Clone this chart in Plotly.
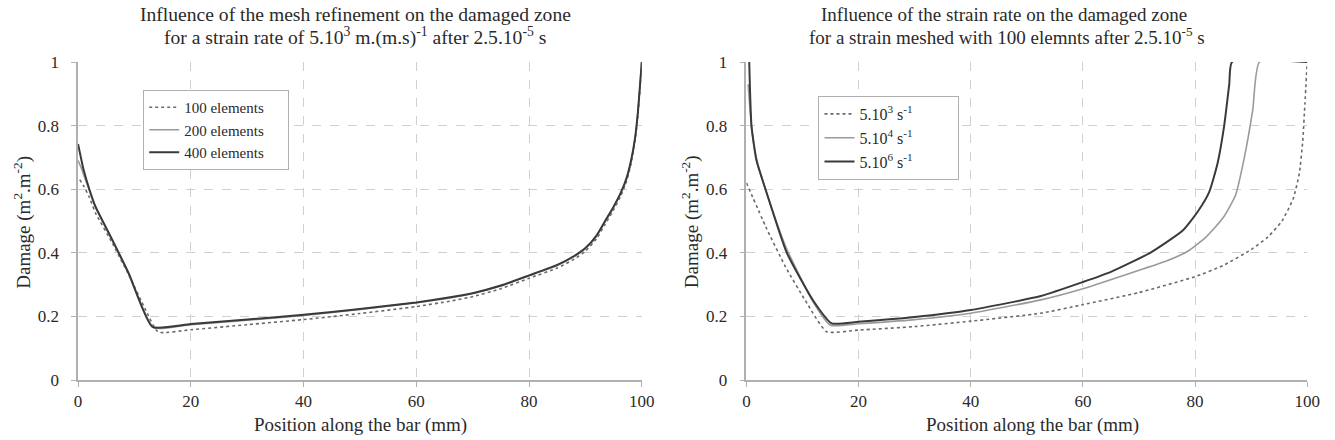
import plotly.graph_objects as go

# ---------------- Data: left chart (mesh refinement) ----------------
x_100el = [0.3, 1, 2, 3.1, 6.1, 9, 12, 14.2, 20, 30, 40, 50, 60, 66, 70, 75, 80, 85, 88, 90, 92, 93.5, 95, 96.3, 97.3, 98.1, 98.8, 99.3, 99.7, 100]
y_100el = [0.63, 0.61, 0.575, 0.525, 0.43, 0.33, 0.22, 0.151, 0.158, 0.174, 0.19, 0.209, 0.231, 0.248, 0.262, 0.287, 0.32, 0.352, 0.38, 0.405, 0.445, 0.49, 0.535, 0.58, 0.625, 0.68, 0.75, 0.83, 0.92, 1.0]

x_200el = [0, 0.5, 1, 2, 3.1, 6.1, 9, 13.4, 20, 30, 40, 50, 60, 66, 70, 75, 80, 85, 88, 90, 92, 93.5, 95, 96.3, 97.3, 98.1, 98.8, 99.3, 99.7, 100]
y_200el = [0.69, 0.67, 0.645, 0.597, 0.543, 0.438, 0.333, 0.164, 0.174, 0.188, 0.203, 0.222, 0.243, 0.258, 0.272, 0.296, 0.328, 0.36, 0.388, 0.413, 0.453, 0.498, 0.543, 0.588, 0.633, 0.688, 0.758, 0.838, 0.928, 1.0]

x_400el = [0, 0.5, 1, 2, 3.1, 6.1, 9, 13.2, 20, 30, 40, 50, 60, 66, 70, 75, 80, 85, 88, 90, 92, 93.5, 95, 96.3, 97.3, 98.1, 98.8, 99.3, 99.7, 100]
y_400el = [0.742, 0.70, 0.66, 0.60, 0.545, 0.44, 0.335, 0.167, 0.176, 0.19, 0.205, 0.223, 0.244, 0.26, 0.273, 0.297, 0.329, 0.362, 0.39, 0.415, 0.455, 0.50, 0.545, 0.59, 0.635, 0.69, 0.76, 0.84, 0.93, 1.0]

# ---------------- Data: right chart (strain rate) ----------------
x_5e3 = [0, 3.5, 7, 10.5, 14.3, 20, 30, 40, 52.5, 60, 70, 80, 85, 90, 93, 95.5, 97.5, 98.6, 99.2, 99.6, 100]
y_5e3 = [0.62, 0.48, 0.355, 0.25, 0.152, 0.157, 0.168, 0.185, 0.21, 0.237, 0.275, 0.325, 0.36, 0.41, 0.45, 0.50, 0.57, 0.65, 0.75, 0.87, 1.0]

x_5e4 = [0.3, 1, 2, 3.4, 7, 11.9, 15, 20, 30, 40, 52.5, 60, 70, 75, 78.7, 82, 85, 87.2, 88.8, 90.3, 91.5, 100]
y_5e4 = [0.93, 0.78, 0.68, 0.60, 0.42, 0.245, 0.172, 0.177, 0.19, 0.21, 0.252, 0.287, 0.345, 0.375, 0.405, 0.45, 0.51, 0.58, 0.70, 0.85, 1.0, 1.0]

x_5e6 = [0.5, 0.9, 1.8, 3.4, 7.2, 11.9, 15.2, 20, 30, 40, 52.5, 60, 65, 72, 77.8, 80.5, 82.5, 84.0, 85.2, 86.1, 86.6, 100]
y_5e6 = [1.0, 0.8, 0.69, 0.60, 0.40, 0.25, 0.178, 0.183, 0.198, 0.22, 0.264, 0.308, 0.34, 0.40, 0.47, 0.53, 0.59, 0.68, 0.80, 0.93, 1.0, 1.0]

x_ticks = [0, 20, 40, 60, 80, 100]
y_ticks = [0, 0.2, 0.4, 0.6, 0.8, 1]
y_tick_labels = ["0", "0.2", "0.4", "0.6", "0.8", "1"]

FONT = "Liberation Serif, Times New Roman, serif"
TXT = "#2a2a2a"
GRID = "#d0d0d0"
AXIS = "#b0b0b0"
NB = "\u00a0"

fig = go.Figure()

def add(x, y, name, color, width, dash, xa, ya, lg):
    fig.add_trace(go.Scatter(x=x, y=y, mode="lines", name=name,
                             line=dict(color=color, width=width, dash=dash,
                                       shape="spline", smoothing=0.5),
                             xaxis=xa, yaxis=ya, legend=lg))

add(x_100el, y_100el, "100 elements" + NB * 5, "#6a6a6a", 1.6, "dot", "x", "y", "legend")
add(x_200el, y_200el, "200 elements" + NB * 5, "#9a9a9a", 1.6, "solid", "x", "y", "legend")
add(x_400el, y_400el, "400 elements" + NB * 5, "#3a3a3a", 2, "solid", "x", "y", "legend")
add(x_5e3, y_5e3, "5.10<sup>3</sup> s<sup>-1</sup>" + NB * 10, "#6a6a6a", 1.6, "dot", "x2", "y2", "legend2")
add(x_5e4, y_5e4, "5.10<sup>4</sup> s<sup>-1</sup>" + NB * 10, "#9a9a9a", 1.6, "solid", "x2", "y2", "legend2")
add(x_5e6, y_5e6, "5.10<sup>6</sup> s<sup>-1</sup>" + NB * 10, "#3a3a3a", 2, "solid", "x2", "y2", "legend2")

W, H = 1335, 440
T, B = 62, 60
PH = H - T - B

def px_x(p):
    return p / W

def px_y(p):
    return (H - B - p) / PH

axis_common = dict(
    showline=True, linecolor=AXIS, linewidth=1.5,
    showgrid=True, gridcolor=GRID, griddash="dash", gridwidth=1,
    ticks="outside", ticklen=5, tickcolor=AXIS,
    tickfont=dict(family=FONT, size=17, color=TXT),
    zeroline=False, fixedrange=True,
)

legend_common = dict(xanchor="left", yanchor="top",
                     bgcolor="white", bordercolor="#b0b0b0", borderwidth=1,
                     itemwidth=30, tracegroupgap=0)

fig.update_layout(
    width=W, height=H,
    margin=dict(l=0, r=0, t=T, b=B),
    paper_bgcolor="white", plot_bgcolor="white",
    font=dict(family=FONT, color=TXT),
    xaxis=dict(domain=[px_x(75), px_x(646)], range=[0, 100], tickvals=x_ticks,
               anchor="y", **axis_common),
    yaxis=dict(domain=[0, 1], range=[0, 1], tickvals=y_ticks, ticktext=y_tick_labels,
               anchor="x", ticklabelstandoff=9, **axis_common),
    xaxis2=dict(domain=[px_x(752), px_x(1320)], range=[0, 100], tickvals=x_ticks,
                anchor="y2", **axis_common),
    yaxis2=dict(domain=[0, 1], range=[0, 1], tickvals=y_ticks, ticktext=y_tick_labels,
                anchor="x2", ticklabelstandoff=9, **axis_common),
    legend=dict(x=px_x(141), y=px_y(90), font=dict(family=FONT, size=15, color=TXT),
                **legend_common),
    legend2=dict(x=px_x(825), y=px_y(96), font=dict(family=FONT, size=16, color=TXT),
                 **legend_common),
    showlegend=True,
)

ann = []
def txt(text, x, y, size, angle=0):
    ann.append(dict(text=text, x=px_x(x), y=px_y(y), xref="paper", yref="paper",
                    showarrow=False, xanchor="center", yanchor="middle",
                    textangle=angle, font=dict(family=FONT, size=size, color=TXT)))

txt("Influence of the mesh refinement on the damaged zone", 356, 14, 19.6)
txt("for a strain rate of 5.10<sup>3</sup> m.(m.s)<sup>-1</sup> after 2.5.10<sup>-5</sup> s", 356, 36, 19.6)
txt("Influence of the strain rate on the damaged zone", 1013, 14, 19)
txt("for a strain meshed with 100 elemnts after 2.5.10<sup>-5</sup> s", 1016, 36, 19)
txt("Position along the bar (mm)", 361, 425, 19)
txt("Position along the bar (mm)", 1042, 425, 19)
txt("Damage (m<sup>2</sup>.m<sup>-2</sup>)", 18, 222, 19, -90)
txt("Damage (m<sup>2</sup>.m<sup>-2</sup>)", 695, 222, 19, -90)
fig.update_layout(annotations=ann)

fig.write_html("out.html")
